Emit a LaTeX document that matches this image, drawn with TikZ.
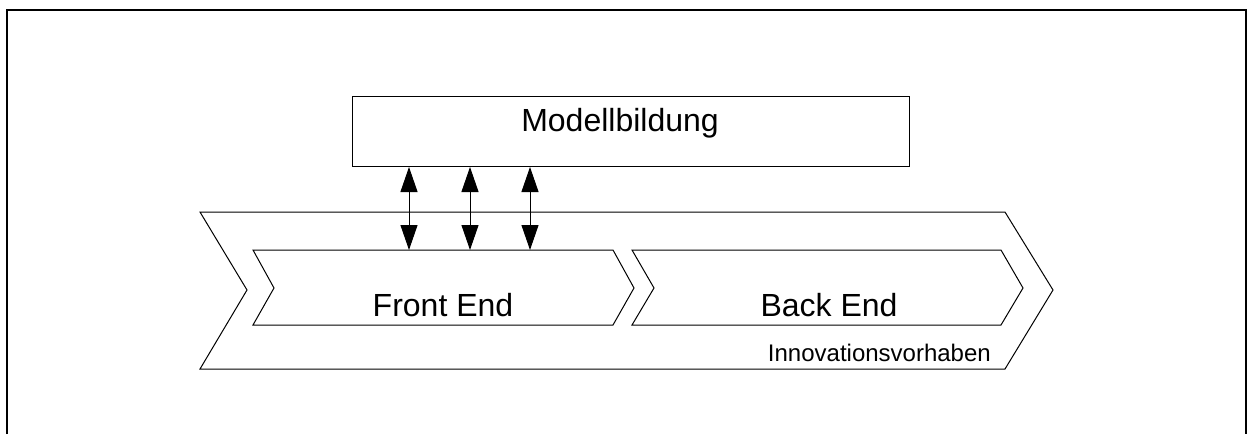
\documentclass[tikz,border=0pt]{standalone}
\usepackage{fontspec}
\setmainfont{Liberation Sans}
\usetikzlibrary{arrows.meta}
\begin{document}
\begin{tikzpicture}[x=1pt,y=-1pt,
  frameline/.style={line width=2pt,black},
  chevron/.style={draw=black,line width=1pt,line join=miter},
  bigtext/.style={font=\fontsize{32}{38}\selectfont,inner sep=0pt,anchor=base},
  smalltext/.style={font=\fontsize{24}{29}\selectfont,inner sep=0pt,anchor=base east},
  link/.style={line width=1pt,{Triangle[length=25pt,width=17pt]}-{Triangle[length=25pt,width=17pt]}}]
  \useasboundingbox (0,0) rectangle (1248,434);
  % open frame
  \draw[frameline] (7,434) -- (7,9.5) -- (1246,9.5) -- (1246,434);
  % model box
  \node[draw=black,line width=1pt,minimum width=557pt,minimum height=70pt,inner sep=0pt,anchor=north west] (mb) at (352,96) {};
  \node[bigtext] (mbt) at (620,131) {Modellbildung};
  % outer process chevron
  \draw[chevron] (200,212) -- (1005,212) -- (1053,290) -- (1005,369) -- (200,369) -- (247,290) -- cycle;
  % front end chevron
  \draw[chevron] (253,250) -- (613,250) -- (634,288) -- (613,325) -- (253,325) -- (274,288) -- cycle;
  % back end chevron
  \draw[chevron] (632,250) -- (1001,250) -- (1023,288) -- (1001,325) -- (632,325) -- (654,288) -- cycle;
  \node[bigtext] (fe) at (443,316) {Front End};
  \node[bigtext] (be) at (829,316) {Back End};
  \node[smalltext] (iv) at (991,361) {Innovationsvorhaben};
  % link endpoints on the front end top edge
  \coordinate (p1) at (409,250);
  \coordinate (p2) at (470,250);
  \coordinate (p3) at (530,250);
  \draw[link] (p1 |- mb.south) -- (p1);
  \draw[link] (p2 |- mb.south) -- (p2);
  \draw[link] (p3 |- mb.south) -- (p3);
\end{tikzpicture}
\end{document}
